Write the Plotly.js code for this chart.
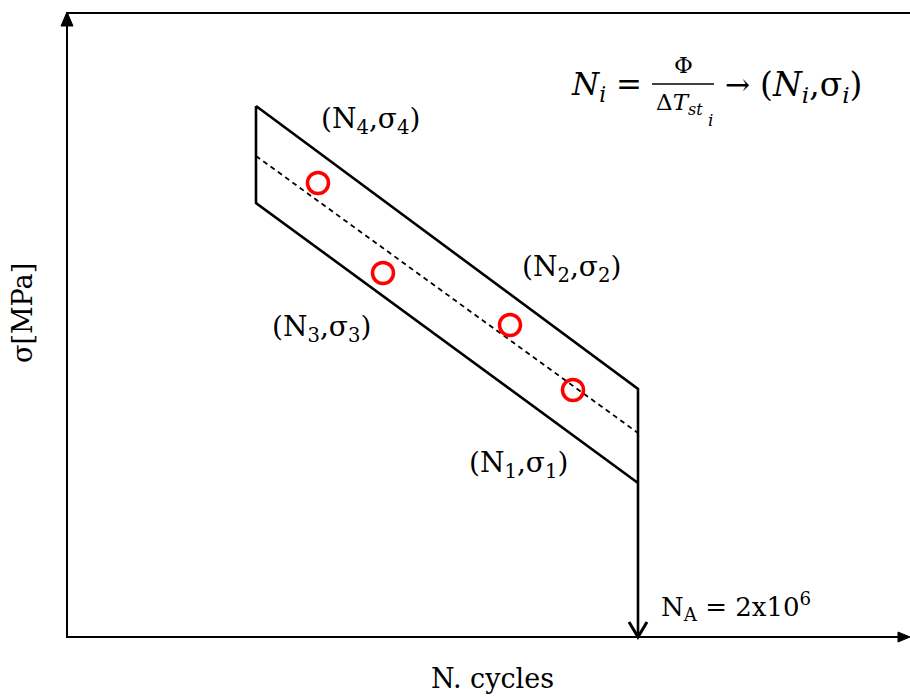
<!DOCTYPE html>
<html><head><meta charset="utf-8">
<script src="https://cdn.plot.ly/plotly-3.0.1.min.js"></script>
<style>html,body{margin:0;padding:0;background:#fff}#c{width:910px;height:697px}</style>
</head><body><div id="c"></div>
<script>
// Schematic coordinates (plot units: x to the right, y downward)
const bandUpperX = [256, 638];
const bandUpperY = [106, 389];
const bandLowerX = [256, 638];
const bandLowerY = [203, 483];
const meanX = [256, 638];
const meanY = [156, 433];
const pointX = [573, 510, 383, 318];
const pointY = [390, 325, 273, 183];
const pointLabels = ["(N<sub>1</sub>,σ<sub>1</sub>)", "(N<sub>2</sub>,σ<sub>2</sub>)", "(N<sub>3</sub>,σ<sub>3</sub>)", "(N<sub>4</sub>,σ<sub>4</sub>)"];
const labelX = [518, 571, 321, 370];
const labelY = [464, 268, 328, 120];
const axisOrigin = [67, 637];
const axisEnd = [908, 13];
const NA = 638;

const serif = "DejaVu Serif, serif";
const blk = {color: "#000", width: 2.6};

const traces = [];
traces.push({x: [bandUpperX[0], bandUpperX[1], bandLowerX[1], bandLowerX[0], bandUpperX[0]],
             y: [bandUpperY[0], bandUpperY[1], bandLowerY[1], bandLowerY[0], bandUpperY[0]],
             mode: "lines", line: blk, hoverinfo: "skip"});
traces.push({x: meanX, y: meanY, mode: "lines", line: {color: "#000", width: 1.8, dash: "5px,4px"}, hoverinfo: "skip"});
traces.push({x: [NA, NA], y: [bandLowerY[1], axisOrigin[1]], mode: "lines", line: blk, hoverinfo: "skip"});
traces.push({x: [NA - 9, NA, NA + 9], y: [axisOrigin[1] - 15, axisOrigin[1], axisOrigin[1] - 15], mode: "lines", line: {color: "#000", width: 3}, hoverinfo: "skip"});
traces.push({x: [axisOrigin[0], axisOrigin[0], 910], y: [axisOrigin[1] + 1, axisEnd[1], axisEnd[1]], mode: "lines", line: {color: "#000", width: 2}, hoverinfo: "skip"});
traces.push({x: [axisOrigin[0], axisEnd[0] - 6], y: [axisOrigin[1], axisOrigin[1]], mode: "lines", line: {color: "#000", width: 2}, hoverinfo: "skip"});
traces.push({x: [axisOrigin[0] - 6, axisOrigin[0], axisOrigin[0] + 6, axisOrigin[0] - 6], y: [26, axisEnd[1] - 1, 26, 26], mode: "lines", fill: "toself", fillcolor: "#000", line: {color: "#000", width: 1}, hoverinfo: "skip"});
traces.push({x: [axisEnd[0] - 10, 910, axisEnd[0] - 10, axisEnd[0] - 10], y: [axisOrigin[1] - 5, axisOrigin[1], axisOrigin[1] + 5, axisOrigin[1] - 5], mode: "lines", fill: "toself", fillcolor: "#000", line: {color: "#000", width: 1}, hoverinfo: "skip"});
traces.push({x: pointX, y: pointY, mode: "markers", marker: {symbol: "circle-open", size: 21, color: "#ff0000", line: {color: "#ff0000", width: 3.5}}, hoverinfo: "skip"});

const ann = [];
for (let i = 0; i < pointLabels.length; i++) {
  ann.push({x: labelX[i], y: labelY[i], text: pointLabels[i], showarrow: false, font: {family: serif, size: 28, color: "#000"}});
}
ann.push({x: 659, y: 606, xanchor: "left", text: "N<sub>A</sub> = 2x10<sup>6</sup>", showarrow: false, font: {family: serif, size: 26, color: "#000"}});
ann.push({x: 492, y: 678, text: "N. cycles", showarrow: false, font: {family: serif, size: 27, color: "#000"}});
ann.push({x: 22, y: 313, text: "σ[MPa]", textangle: -90, showarrow: false, font: {family: serif, size: 27, color: "#000"}});
// formula
ann.push({x: 644, y: 86, xanchor: "right", text: "<i>N<sub>i</sub></i> =", showarrow: false, font: {family: serif, size: 31, color: "#000"}});
ann.push({x: 683, y: 65, text: "Φ", showarrow: false, font: {family: serif, size: 23, color: "#000"}});
ann.push({x: 679, y: 104, text: "Δ<i>T<sub>st</sub></i>", showarrow: false, font: {family: serif, size: 23, color: "#000"}});
ann.push({x: 710, y: 120, text: "<i>i</i>", showarrow: false, font: {family: serif, size: 17, color: "#000"}});
ann.push({x: 737, y: 84, text: "→", showarrow: false, font: {family: serif, size: 30, color: "#000"}});
ann.push({x: 758, y: 86, xanchor: "left", text: "(<i>N<sub>i</sub></i>,σ<sub><i>i</i></sub>)", showarrow: false, font: {family: serif, size: 33, color: "#000"}});

const layout = {
  width: 910, height: 697,
  margin: {l: 0, r: 0, t: 0, b: 0},
  paper_bgcolor: "#fff", plot_bgcolor: "#fff",
  showlegend: false,
  xaxis: {range: [0, 910], visible: false, fixedrange: true},
  yaxis: {range: [697, 0], visible: false, fixedrange: true},
  annotations: ann,
  shapes: [{type: "line", x0: 652, x1: 714, y0: 84, y1: 84, line: {color: "#000", width: 1.5}}]
};
Plotly.newPlot("c", traces, layout, {staticPlot: true, displayModeBar: false});
</script></body></html>
